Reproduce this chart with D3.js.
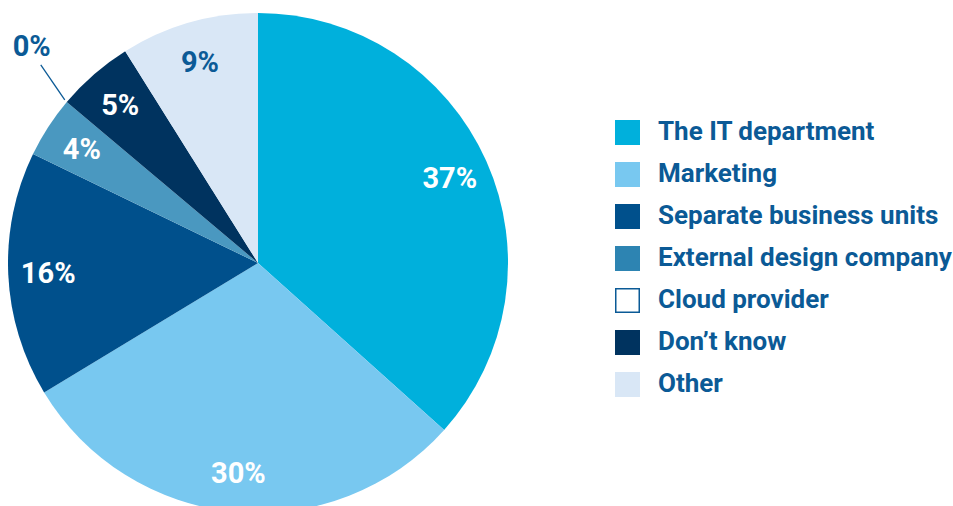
<!DOCTYPE html>
<html lang="en">
<head>
<meta charset="UTF-8">
<title>Pie</title>
<script src="https://d3js.org/d3.v7.min.js"></script>
<style>
  body { margin: 0; background: #fff; }
  svg { display: block; }
  text { font-family: Roboto, "Open Sans", sans-serif; font-weight: 700; }
</style>
</head>
<body>
<svg id="chart" width="953" height="506"></svg>
<script>
var categories = ["The IT department", "Marketing", "Separate business units", "External design company", "Cloud provider", "Don\u2019t know", "Other"];
var values = [37, 30, 16, 4, 0, 5, 9];
var colors = ["#00b0dc", "#78c8f0", "#00508c", "#4a98c0", "#ffffff", "#00335f", "#d9e7f6"];
var legendColors = ["#00b0dc", "#78c8f0", "#00508c", "#2d84b2", "#ffffff", "#00335f", "#d9e7f6"];

var data = categories.map((c, i) => ({ name: c, value: values[i], color: colors[i], legend: legendColors[i] }));

var svg = d3.select("#chart");
var cx = 258, cy = 263, r = 250;

var pie = d3.pie().sort(null).value(d => d.value);
var arc = d3.arc().innerRadius(0).outerRadius(r);
var labelArc = d3.arc().innerRadius(210).outerRadius(210);

var g = svg.append("g").attr("transform", "translate(" + cx + "," + cy + ")");
var arcs = pie(data);

g.selectAll("path")
  .data(arcs)
  .enter()
  .append("path")
  .attr("d", arc)
  .attr("fill", d => d.data.color);

// labels inside slices
g.selectAll("text.in")
  .data(arcs.filter(d => d.data.value > 0))
  .enter()
  .append("text")
  .attr("class", "in")
  .attr("transform", d => "translate(" + labelArc.centroid(d) + ")")
  .attr("text-anchor", "middle")
  .attr("dy", "0.36em")
  .attr("font-size", 29)
  .attr("fill", d => d.data.name === "Other" ? "#0b5a96" : "#fff")
  .text(d => d.data.value + "%");

// zero slice: leader line + outside label
var zero = arcs.filter(d => d.data.value === 0);
var edge = d3.arc().innerRadius(r).outerRadius(r);
g.selectAll("line.zero")
  .data(zero)
  .enter()
  .append("line")
  .attr("x1", d => edge.centroid(d)[0] - 2)
  .attr("y1", d => edge.centroid(d)[1] - 2)
  .attr("x2", d => edge.centroid(d)[0] - 26)
  .attr("y2", d => edge.centroid(d)[1] - 37)
  .attr("stroke", "#0b5a96")
  .attr("stroke-width", 1.3);
g.selectAll("text.zero")
  .data(zero)
  .enter()
  .append("text")
  .attr("transform", d => "translate(" + (edge.centroid(d)[0] - 35) + "," + (edge.centroid(d)[1] - 56) + ")")
  .attr("text-anchor", "middle")
  .attr("dy", "0.36em")
  .attr("font-size", 29)
  .attr("fill", "#0b5a96")
  .text(d => d.data.value + "%");

// legend
var legend = svg.append("g").attr("transform", "translate(615,120)");
var y = d3.scaleBand().domain(categories).range([0, 7 * 42]);
var rows = legend.selectAll("g")
  .data(data)
  .enter()
  .append("g")
  .attr("transform", d => "translate(0," + y(d.name) + ")");
rows.append("rect")
  .attr("x", d => d.name === "Cloud provider" ? 0.75 : 0)
  .attr("y", d => d.name === "Cloud provider" ? 0.75 : 0)
  .attr("width", d => d.name === "Cloud provider" ? 23.5 : 25)
  .attr("height", d => d.name === "Cloud provider" ? 23.5 : 25)
  .attr("fill", d => d.legend)
  .attr("stroke", d => d.name === "Cloud provider" ? "#0b5a96" : "none")
  .attr("stroke-width", 1.5);
rows.append("text")
  .attr("x", 43)
  .attr("y", 20)
  .attr("font-size", 26)
  .attr("fill", "#0b5a96")
  .text(d => d.name);
</script>
</body>
</html>
